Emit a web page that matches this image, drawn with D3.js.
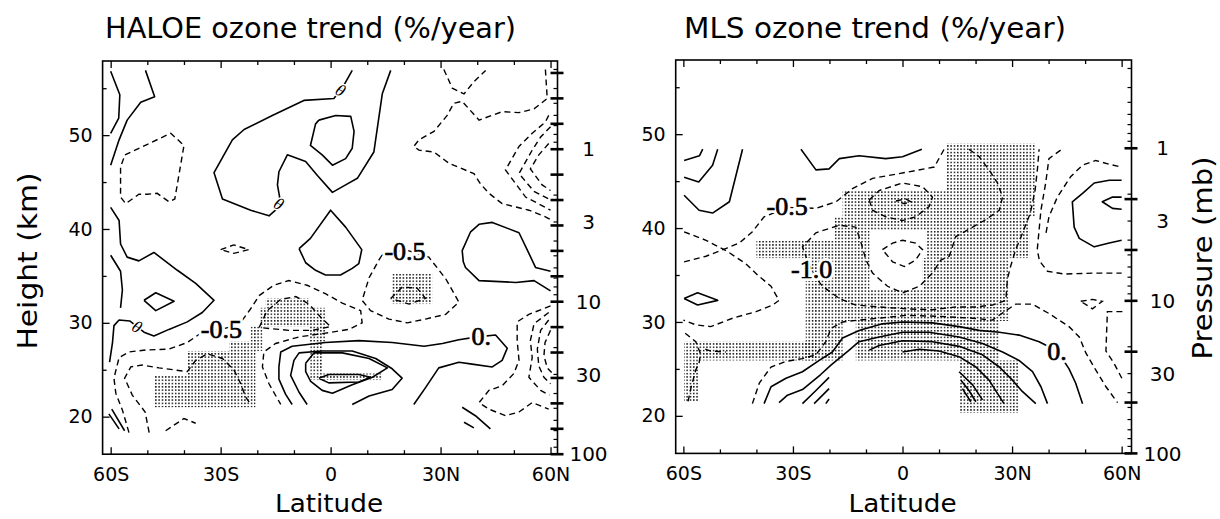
<!DOCTYPE html>
<html><head><meta charset="utf-8">
<script src="https://cdn.jsdelivr.net/npm/d3@7"></script>
<style>
body{margin:0;background:#fff;}
svg{display:block;font-family:"DejaVu Sans",sans-serif;}
</style></head><body>
<svg id="c" width="1220" height="519"></svg>
<script>
// ---------------- DATA ----------------
const latTicks = [-60, -30, 0, 30, 60];
const latTickLabels = ["60S", "30S", "0", "30N", "60N"];
const latMinorTicks = [-50, -40, -20, -10, 10, 20, 40, 50];
const heightTicks = [20, 30, 40, 50];
const heightMinorTicks = [25, 35, 45, 55];
const pressureLabels = [1, 3, 10, 30, 100];
const titles = ["HALOE ozone trend (%/year)", "MLS ozone trend (%/year)"];

// contour lines as [latitude, height km]
const haloeSolid = [
  [[-60,56.8],[-57.5,54.3],[-57.8,51.8],[-60,50.2]],
  [[-50.5,56.9],[-48,54.1],[-51.8,53.5],[-55.5,51.6],[-57.7,49.5],[-60,46.8]],
  [[5.9,56.9],[3.6,55.3],[0.9,53.9],[-7.3,53.7],[-15.9,52.1],[-23.6,50.6],[-26.8,49.5],[-31.8,46.0],[-29.5,43.2],[-21.8,42.0],[-16.8,41.4],[-14.5,42.2],[-13.9,43.4],[-14.5,44.7],[-14.1,46.1],[-11.8,47.9],[-6.8,47.2],[-3.6,45.7],[0.5,43.9],[4.1,44.7],[7.3,45.4],[11.8,48.2],[14.1,54.4],[16.4,56.9]],
  [[-3.2,51.6],[1.4,52.1],[5.5,52.0],[6.4,50.4],[5.9,48.6],[4.1,47.5],[0.5,46.8],[-2.3,47.9],[-5.5,48.9],[-4.1,51.2],[-3.2,51.6]],
  [[-60,42.3],[-57.7,40.9],[-57.3,38.4],[-55.5,37.0],[-52.3,36.6],[-48.2,37.5],[-41.8,35.6],[-36.8,34.2],[-31.8,32.4],[-35,31.1],[-39.1,30.1],[-44.1,29.3],[-48.2,28.6],[-50.9,29.0],[-52.8,29.6],[-54.8,30.2],[-57.7,30.3],[-59.1,29.7],[-59.5,27.9],[-60.3,25.8]],
  [[-60,37.2],[-57.3,35.5],[-56.8,33.5],[-57.3,31.6]],
  [[-50.9,32.4],[-47.7,33.2],[-42.7,32.3],[-47.7,31.3],[-50.9,32.4]],
  [[-8.6,37.9],[-5.5,39],[0,42],[4.1,40.2],[8.5,37.8],[7.7,36.3],[5.9,35.8],[2.7,35.1],[-1.4,35.1],[-4.1,35.6],[-6.8,36.4],[-8.6,37.9]],
  [[60,35.5],[55.9,35.9],[54.1,37.4],[51.4,39.6],[44.1,40.7],[40.5,40.5],[38.2,39.7],[35.9,37.7],[36.2,36.5],[36.8,35.9],[40.5,34.5],[50.5,34.3],[55.5,34.5],[60,33.4]],
  [[-10.5,21.3],[-12.3,22.4],[-14.1,24.0],[-14.1,25.3],[-13.6,26.9],[-10.5,27.5],[-1.4,27.9],[7.7,28.1],[16.8,27.9],[25.5,27.5],[30.5,27.8],[35,28.2],[40,28.5],[45,28.7],[48.2,27.3],[46.8,26.0],[44.1,25.3],[38.6,25.6],[35,25.8],[29.5,25.2],[25.9,23.1],[22.7,21.3]],
  [[-6.4,21.3],[-8.6,22.6],[-10.9,24.4],[-10,26.0],[-8.6,26.8],[-2.3,27.0],[5.9,27.0],[12.3,26.2],[16.8,25.1],[19.5,24.1],[16.8,22.9],[10.5,22.2],[5.9,21.3]],
  [[-6.8,25.7],[-4.5,26.8],[3.2,26.8],[10.5,26.2],[15.5,25.2],[11.4,24.2],[5.9,23.4],[0.5,22.5],[-2.3,22.8],[-5.5,23.8],[-6.8,24.8],[-6.8,25.7]],
  [[-3.2,24.1],[-0.5,24.5],[7.7,24.5],[10.9,24.2],[7.7,23.7],[-0.5,23.6],[-3.2,24.1]],
  [[35.9,21.0],[39.5,20.1],[43.6,18.7]],
  [[36.4,19.4],[39.1,18.8]],
  [[-60.5,20.3],[-57.7,18.7]],
  [[-59.7,20.8],[-56.2,18.5]]
];
const haloeDashed = [
  [[30.9,57.0],[33.2,55.0],[36.4,54.4],[39.1,55.7],[42.3,56.9]],
  [[58.6,57.0],[59.1,53.9],[55.5,52.8],[51.4,52.4],[46.8,52.5],[40.5,51.6],[35.9,53.6],[33.6,53.4],[31.8,52.1],[28.2,50.4],[24.1,49.5],[22.7,48.8],[24.1,48.4],[28.2,48.2],[32.3,47.0],[39.1,45.9],[40.9,44.8],[43.2,43.8],[46.8,42.7],[54.1,42.0],[58.6,41.3],[60,41.0]],
  [[59.5,52.1],[58.6,51.4],[55,50.2],[51.4,48.8],[47.7,46.3],[53.2,43.4],[58.6,42.3],[60,42.0]],
  [[60,50.9],[57.3,49.8],[55,48.4],[51.4,45.9],[55.5,44.0],[60,43.1]],
  [[59.5,49.1],[56.8,47.9],[54.5,46.4],[57.7,44.7],[60,44.1]],
  [[-56.1,47.9],[-43.6,50.2],[-40,48.9],[-42.5,43.2],[-44.1,42.9],[-47.3,43.8],[-50,43.7],[-52.3,43.7],[-55.9,42.7],[-57.3,43.4],[-57.3,46.6],[-56.1,47.9]],
  [[-30,37.8],[-26.4,38.3],[-22.3,37.8],[-26.4,37.4],[-30,37.8]],
  [[14,37.2],[13.2,36.7],[10.5,34.8],[8.6,32.4],[10.9,31.3],[15.9,30.4],[20.9,30.0],[25.9,30.4],[31.4,30.9],[35,32.2],[31.4,34.7],[26.8,37.0],[20.3,37.8],[14,37.2]],
  [[16.4,32.6],[19.5,33.8],[23.6,33.7],[25.9,32.6],[21.4,32.0],[16.4,32.6]],
  [[60,31.8],[54.1,30.9],[50.9,30.1],[50.9,28.1],[51.4,26.0],[50,24.6],[46.8,23.3],[43.2,22.8],[40.5,21.5],[43.2,20.8],[47.7,20.1],[51.4,20.5],[55,21.5],[59.5,20.8]],
  [[59.5,31.1],[55.5,29.9],[54.5,28.1],[55,26.3],[54.1,24.2],[57.3,22.8],[59.7,22.3]],
  [[59.5,30.3],[57.3,29.2],[56.4,27.2],[56.8,25.4],[58.2,24.2],[60,23.5]],
  [[60,29.2],[58.5,27.9],[58.2,26.5],[59.1,25.2],[60.3,24.7]],
  [[-55,18.3],[-56.8,20.7],[-58.6,22.5],[-59.1,24.1],[-57.7,26.3],[-55,26.9],[-50.5,27.1],[-44.1,27.2],[-39.1,27.9],[-35,29.0],[-30,29.3],[-25,29.8],[-21.8,31.5],[-19.5,32.9],[-15.5,34.0],[-11.4,34.5],[-6.4,34.0],[-1.4,33.1],[3.2,32.1],[8.2,31.3],[8.6,30.0],[5,29.3],[-1.4,28.9],[-8.6,28.5],[-15,27.8],[-18.2,26.9],[-18.6,25.3],[-16.8,23.5],[-13.6,21.3]],
  [[-19.5,29.5],[-17.3,31.3],[-13.6,32.5],[-9.5,32.8],[-5.9,32.0],[-2.7,30.6],[0,29.6],[-5,29.2],[-11.4,29.2],[-16.8,29.4],[-19.5,29.5]],
  [[-49.5,18.3],[-50.6,20.5],[-54.1,22.3],[-56.2,24.1],[-54.5,25.3],[-51.4,25.5],[-46.8,25.2],[-39.1,24.8],[-36.8,26.0],[-33.6,26.7],[-29.5,26.2],[-26.4,25.0],[-24.5,23.5],[-23.2,22.1],[-21.8,21.3]],
  [[-45,18.5],[-40,19.8],[-36.8,19.3]]
];
// stippled (significant) boxes: [lat0, lat1, h0, h1]
const haloeStipple = [
  [-48.2,-20.5,21.0,24.4],[-39.1,-20.5,24.4,27.0],[-27.7,-18.6,27.0,28.0],[-21.8,-18.6,28.0,29.6],
  [-19.5,-1.4,29.6,31.6],[-17.7,-6,31.6,32.6],[-5.9,-1.4,28.0,29.6],[-5.5,-2.3,24.6,28.0],
  [-5.5,14,23.9,24.6],[16.8,27.7,32.0,35.2]
];
const haloeLabels = [
  {text:"-0.5", lat:20.3, h:36.7, kind:"big"},
  {text:"-0.5", lat:-29.8, h:28.4, kind:"big"},
  {text:"0.", lat:41.1, h:27.6, kind:"big"},
  {text:"θ", lat:2.7, h:54.8, kind:"small"},
  {text:"θ", lat:-14.1, h:42.7, kind:"small"},
  {text:"θ", lat:-52.8, h:29.6, kind:"small"}
];

const mlsSolid = [
  [[-59.8,47.2],[-55.6,47.7],[-54.7,48.4]],
  [[-59.8,45.4],[-55.8,44.9],[-52,46.7],[-50.6,48.4]],
  [[-59.8,43.5],[-55.7,41.9],[-52,41.6],[-47.4,42.8],[-43.8,48.4]],
  [[-27.8,48.4],[-23.7,46.2],[-20.1,46.3],[-17.3,47.4],[-11.9,47.7],[-4.6,47.4],[0,47.6],[5.3,48.4]],
  [[60,45.1],[56.6,45.1],[52.5,44.8],[49.3,43.7],[46.5,42.8],[47,40.1],[48.4,38.9],[52.5,38.0],[56.6,38.4],[60,38.7]],
  [[60,43.3],[57.5,43.3],[54.7,42.8],[57.5,42.1],[60,42.0]],
  [[-59.8,32.5],[-56.1,33.1],[-50.6,32.3],[-56.1,31.8],[-59.8,32.5]],
  [[-37.9,21.3],[-36,23.1],[-31.9,24.0],[-27.4,24.7],[-22.8,25.9],[-19.2,26.8],[-16.4,28.3],[-11.9,29.1],[-5.5,29.8],[0,30.0],[8.2,29.9],[15.5,29.5],[21,29.1],[26.5,28.9],[31.9,28.6],[37.4,27.9],[42.4,26.9],[45.6,25.0],[47.4,23.5],[49.3,21.3]],
  [[-33.8,21.4],[-31.5,22.2],[-27.4,22.8],[-22.4,24.4],[-19.6,25.4],[-14.6,27.0],[-11.9,27.9],[-6.4,28.4],[0,28.9],[7.3,28.9],[15.5,28.4],[21.9,27.7],[27.4,26.8],[31.9,25.9],[35.6,24.7],[37.9,23.1],[39.7,21.3]],
  [[-9.1,27.0],[-6.4,27.5],[0,28.0],[8.2,27.9],[15.5,27.4],[21.9,26.5],[26.5,25.2],[30.1,23.8],[32.8,22.6],[36.5,21.3]],
  [[-27.4,21.3],[-23.7,22.7],[-20.1,24.1]],
  [[0,26.8],[4.6,27.1],[10,26.9],[15.5,26.3],[20.1,25.2],[23.7,23.8],[26,22.4],[27.8,21.3]],
  [[-24.2,21.3],[-20.1,22.9]],
  [[-21,21.3],[-20.1,21.8]],
  [[15.5,24.7],[19.2,23.3],[21.9,21.7]],
  [[16,23.8],[18.2,22.7],[20.1,21.5]],
  [[16.4,22.9],[18.7,21.5]]
];
const mlsDashed = [
  [[-59.8,39.6],[-53.8,38.7],[-47.9,37.5],[-42.9,36.2],[-39.7,35.0],[-36,33.8],[-33.8,32.3],[-35.6,31.8],[-40.1,31.1],[-46.5,30.4],[-52.5,29.5],[-56.6,29.7],[-60,30.2]],
  [[-59.8,36.4],[-53.8,37.0],[-47.9,37.9],[-44.7,38.4],[-41.1,39.6],[-37.9,41.2],[-31.6,42.2],[-23.7,42.1],[-18.2,42.8],[-13.7,44.2],[-8.2,45.3],[-0.9,45.8],[8.7,46.5],[11.4,48.4]],
  [[-9.1,43.0],[-6.4,44.0],[0,44.8],[5.5,44.4],[8.2,43.3],[7.3,42.3],[3.6,41.2],[0,40.8],[-4.6,41.2],[-8.2,41.9],[-9.1,43.0]],
  [[-1.8,42.9],[0.9,43.1],[2.3,42.8],[0.5,42.6],[-1.8,42.9]],
  [[-5.5,37.7],[-2.7,38.4],[0,38.7],[3.6,38.4],[5.5,37.7],[3.6,36.6],[0.5,35.9],[-2.7,36.4],[-5.5,37.7]],
  [[18.2,48.4],[21,47.6],[23.7,46.2],[26,44.8],[27.4,43.3],[26.5,41.9],[22.8,40.9],[19.2,40.1],[14.6,39.1],[12.8,37.0],[10.5,36.6],[8.2,35.2],[4.6,33.8],[0,33.1],[-4.1,33.8],[-8.2,35.2],[-10,36.6],[-11.4,38.5],[-12.8,40.1],[-17.3,40.3],[-23.7,39.5],[-27.4,38.0],[-26,36.5],[-25,35.6],[-23.5,34.6],[-21.9,33.8],[-17.3,32.5],[-12.8,31.8],[-6.4,31.6],[0.9,31.4],[8.2,31.3],[14.6,31.6],[20.1,31.6],[24.6,31.8],[28.3,32.3],[28.7,34.5],[29.5,35.8],[31,37.7],[32.8,39.4],[35,41.6],[36.3,44],[37,46.5],[37.4,48.4]],
  [[43.3,48.3],[40.1,47.4],[39.2,44.8],[37.9,41.9],[36.9,37.7],[37.5,36.5],[39.7,35.4],[44.3,35.1],[52,35.2],[60,35.2]],
  [[39.3,39.5],[40.1,41.2],[42.4,43.3],[46.1,45.5],[49.3,46.7],[52.9,47.2],[56.5,46.8],[60,46.5]],
  [[-41.1,21.3],[-39.2,23.5],[-36,25.2],[-31.9,25.8],[-27.4,26.1],[-23.7,26.5],[-21,27.9],[-19.6,29.3],[-16.4,30.0],[-11.9,30.2],[0.9,30.7],[10,30.6],[19.2,30.4],[24.6,30.2],[28.3,31.2],[31,31.9],[35.6,31.9],[40.1,30.9],[45.6,29.5],[48.4,28.4],[50.2,26.7],[52.9,24.9],[55.7,23.1],[58.9,21.4]],
  [[60.2,31.1],[56.1,31.1],[55.7,26.9],[57.9,25.6],[60.2,23.9]],
  [[48.8,32.2],[52,32.4],[54.7,32.2],[52,31.4],[48.8,32.2]],
  [[-59.5,28.8],[-56.6,27.9],[-55.3,26.6],[-55.7,25.6],[-56.6,24.9],[-57.9,23.0],[-58.8,21.4]],
  [[-54,27.1],[-52.5,26.9],[-48.4,26.8]]
];
const mlsStipple = [
  [12,36.5,44,49],[-16.4,36.5,41.2,44],[-18.7,34.7,39.8,41.2],
  [-18.7,-9,36.8,39.8],[6.4,34.7,36.8,39.8],[-40,-18.7,36.8,38.7],
  [-26.5,-9,33.5,36.8],[5.5,29.2,33.5,36.8],[-26.5,29.2,30.1,33.5],
  [-12.8,26.5,25.9,30.1],[-26.5,-16.4,25.9,30.1],[15.5,31.9,20.3,25.9],
  [-59.8,-23.7,25.9,27.9],[-59.8,-55.7,21.5,25.9]
];
const mlsLabels = [
  {text:"-0.5", lat:-31.6, h:41.4, kind:"big"},
  {text:"-1.0", lat:-24.9, h:34.7, kind:"big"},
  {text:"0.", lat:42.3, h:26.0, kind:"big"}
];

// ---------------- DRAWING ----------------
const svg = d3.select("#c");
const defs = svg.append("defs");
const pat = defs.append("pattern").attr("id","dots").attr("patternUnits","userSpaceOnUse")
  .attr("width",3.3).attr("height",3.3);
pat.append("rect").attr("width",1.5).attr("height",1.5).attr("fill","#111");

const pHeight = p => 48.5 - 16.25*Math.log10(p);

function drawPanel(cfg){
  const x = d3.scaleLinear().domain(cfg.latDomain).range(cfg.xRange);
  const y = d3.scaleLinear().domain([16,57.9]).range(cfg.yRange);
  const pY = p => y(Math.max(16, pHeight(p)));
  const g = svg.append("g");
  const x0 = cfg.xRange[0], x1 = cfg.xRange[1], yb = cfg.yRange[0], yt = cfg.yRange[1];

  g.selectAll("rect.st").data(cfg.stipple).join("rect").attr("class","st")
    .attr("x",d=>x(d[0])).attr("y",d=>y(d[3]))
    .attr("width",d=>x(d[1])-x(d[0])).attr("height",d=>y(d[2])-y(d[3]))
    .attr("fill","url(#dots)");

  const line = d3.line().x(d=>x(d[0])).y(d=>y(d[1]));
  g.selectAll("path.sol").data(cfg.solid).join("path").attr("class","sol")
    .attr("d",line).attr("fill","none").attr("stroke","#000").attr("stroke-width",1.6)
    .attr("stroke-linejoin","round");
  g.selectAll("path.das").data(cfg.dashed).join("path").attr("class","das")
    .attr("d",line).attr("fill","none").attr("stroke","#000").attr("stroke-width",1.4)
    .attr("stroke-dasharray","6,4");

  cfg.labels.forEach(l=>{
    if(l.kind==="big"){
      [["#fff",6],["#000",0.7]].forEach(([sc,sw])=>{
        g.append("text").text(l.text)
          .attr("font-family","'Liberation Serif',serif").attr("text-anchor","middle")
          .attr("x",x(l.lat)).attr("y",y(l.h)).attr("font-size",26)
          .attr("fill",sc).attr("stroke",sc).attr("stroke-width",sw);
      });
    } else {
      g.append("text").text(l.text)
        .attr("font-family","'Liberation Serif',serif").attr("text-anchor","middle")
        .attr("stroke","#fff").attr("paint-order","stroke").attr("fill","#000")
        .attr("font-size",17).attr("font-style","italic").attr("stroke-width",3)
        .attr("transform",`translate(${x(l.lat)},${y(l.h)}) rotate(30)`).attr("dy","0.35em");
    }
  });

  // frame
  g.append("rect").attr("x",x0).attr("y",yt).attr("width",x1-x0).attr("height",yb-yt)
    .attr("fill","none").attr("stroke","#000").attr("stroke-width",1.6);

  const fontSet = s => s.attr("font-size",19).attr("font-family","'DejaVu Sans',sans-serif");
  const strip = s => { s.select(".domain").remove(); s.selectAll(".tick line").attr("stroke-width",1.3); };

  // bottom
  g.append("g").attr("transform",`translate(0,${yb})`)
    .call(d3.axisBottom(x).tickValues(latTicks).tickFormat((d,i)=>latTickLabels[i]).tickSize(-7).tickSizeOuter(0).tickPadding(13))
    .call(fontSet).call(strip);
  g.append("g").attr("transform",`translate(0,${yb})`)
    .call(d3.axisBottom(x).tickValues(latMinorTicks).tickFormat("").tickSize(-4).tickSizeOuter(0)).call(strip);
  // top
  g.append("g").attr("transform",`translate(0,${yt})`)
    .call(d3.axisTop(x).tickValues(latTicks).tickFormat("").tickSize(-7).tickSizeOuter(0)).call(strip);
  g.append("g").attr("transform",`translate(0,${yt})`)
    .call(d3.axisTop(x).tickValues(latMinorTicks).tickFormat("").tickSize(-4).tickSizeOuter(0)).call(strip);
  // left
  g.append("g").attr("transform",`translate(${x0},0)`)
    .call(d3.axisLeft(y).tickValues(heightTicks).tickFormat(d3.format("d")).tickSize(-7).tickSizeOuter(0).tickPadding(10))
    .call(fontSet).call(strip);
  g.append("g").attr("transform",`translate(${x0},0)`)
    .call(d3.axisLeft(y).tickValues(heightMinorTicks).tickFormat("").tickSize(-4).tickSizeOuter(0)).call(strip);

  // right: pressure
  const minorP = [];
  [0.1,1,10].forEach(dec=>{ for(let k=2;k<=9;k++){ const p=k*dec; if(pHeight(p)<57.9 && pHeight(p)>16) minorP.push(p);} });
  g.selectAll("line.pmin").data(minorP).join("line").attr("class","pmin")
    .attr("x1",x1-4).attr("x2",x1).attr("y1",d=>pY(d)).attr("y2",d=>pY(d))
    .attr("stroke","#000").attr("stroke-width",1.2);
  g.selectAll("line.pmaj").data(cfg.pressureMajor).join("line").attr("class","pmaj")
    .attr("x1",x1-7).attr("x2",x1+6).attr("y1",d=>pY(d)).attr("y2",d=>pY(d))
    .attr("stroke","#000").attr("stroke-width",2.6);
  g.selectAll("text.plab").data(pressureLabels).join("text").attr("class","plab")
    .attr("x",x1+31).attr("y",d=>pY(d)).attr("dy","0.36em").attr("text-anchor","middle")
    .attr("font-size",20).text(d=>d);

  // axis title & panel title
  g.append("text").attr("x",(x0+x1)/2 - 1).attr("y",512).attr("text-anchor","middle")
    .attr("font-size",24).attr("textLength",108).attr("lengthAdjust","spacingAndGlyphs").text("Latitude");
  g.append("text").attr("x",cfg.titleX).attr("y",38).attr("font-size",28)
    .attr("textLength",cfg.titleLen).attr("lengthAdjust","spacingAndGlyphs").text(cfg.title);
}

const haloeMajorP = d3.range(-3,13).map(k=>Math.pow(10,k/6));
const mlsMajorP = d3.range(0,7).map(k=>Math.pow(10,k/3));

drawPanel({latDomain:[-62.2,61.9], xRange:[102.6,557.5], yRange:[454.2,61],
  solid:haloeSolid, dashed:haloeDashed, stipple:haloeStipple, labels:haloeLabels,
  pressureMajor:haloeMajorP, title:titles[0], titleX:105, titleLen:411});
drawPanel({latDomain:[-62.1,62.7], xRange:[675.7,1131.5], yRange:[453.4,60],
  solid:mlsSolid, dashed:mlsDashed, stipple:mlsStipple, labels:mlsLabels,
  pressureMajor:mlsMajorP, title:titles[1], titleX:684, titleLen:382});

svg.append("text").attr("transform","translate(37,261) rotate(-90)").attr("text-anchor","middle")
  .attr("font-size",27).attr("textLength",177).attr("lengthAdjust","spacingAndGlyphs").text("Height (km)");
svg.append("text").attr("transform","translate(1212,258) rotate(-90)").attr("text-anchor","middle")
  .attr("font-size",26).attr("textLength",203).attr("lengthAdjust","spacingAndGlyphs").text("Pressure (mb)");
</script>
</body></html>
